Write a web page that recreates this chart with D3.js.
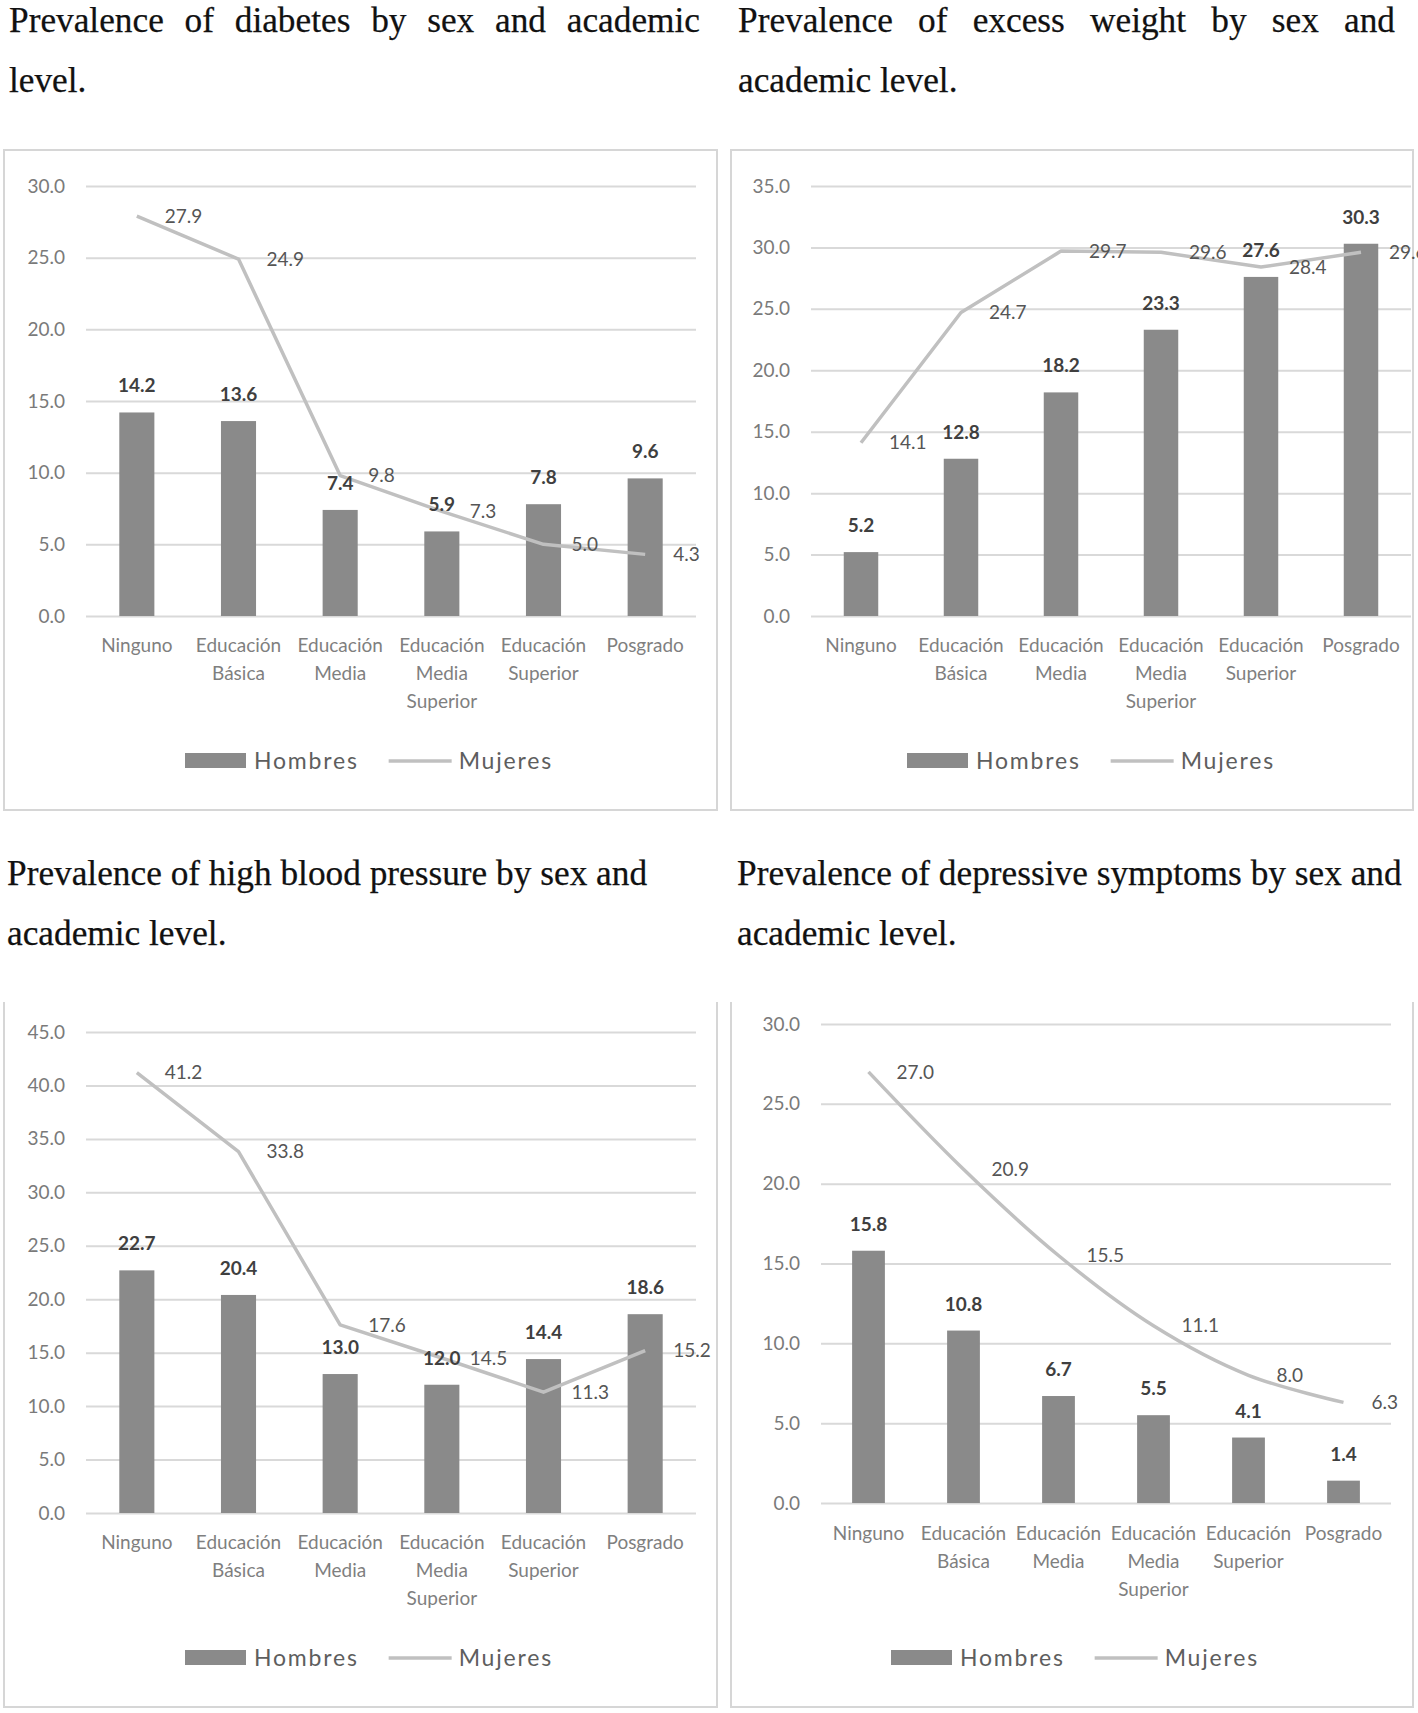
<!DOCTYPE html>
<html>
<head>
<meta charset="utf-8">
<script src="https://cdn.jsdelivr.net/npm/d3@7"></script>
<style>
  html, body { margin: 0; padding: 0; background: #fff; }
  svg { display: block; }
</style>
</head>
<body>
<svg id="chart" width="1418" height="1713"></svg>
<script>
// ---------------- DATA ----------------
const categories = ["Ninguno", "Educación Básica", "Educación Media", "Educación Media Superior", "Educación Superior", "Posgrado"];
const seriesNames = ["Hombres", "Mujeres"];

const diabetesHombres = [14.2, 13.6, 7.4, 5.9, 7.8, 9.6];
const diabetesMujeres = [27.9, 24.9, 9.8, 7.3, 5.0, 4.3];

const weightHombres = [5.2, 12.8, 18.2, 23.3, 27.6, 30.3];
const weightMujeres = [14.1, 24.7, 29.7, 29.6, 28.4, 29.6];

const pressureHombres = [22.7, 20.4, 13.0, 12.0, 14.4, 18.6];
const pressureMujeres = [41.2, 33.8, 17.6, 14.5, 11.3, 15.2];

const depressionHombres = [15.8, 10.8, 6.7, 5.5, 4.1, 1.4];
const depressionMujeres = [27.0, 20.9, 15.5, 11.1, 8.0, 6.3];

const diabetesTicks = [0, 5, 10, 15, 20, 25, 30];
const weightTicks = [0, 5, 10, 15, 20, 25, 30, 35];
const pressureTicks = [0, 5, 10, 15, 20, 25, 30, 35, 40, 45];
const depressionTicks = [0, 5, 10, 15, 20, 25, 30];

const diabetesTitle = ["Prevalence of diabetes by sex and academic", "level."];
const weightTitle = ["Prevalence of excess weight by sex and", "academic level."];
const pressureTitle = ["Prevalence of high blood pressure by sex and", "academic level."];
const depressionTitle = ["Prevalence of depressive symptoms by sex and", "academic level."];

// ---------------- LAYOUT ----------------
const panels = [
  { title: diabetesTitle, hombres: diabetesHombres, mujeres: diabetesMujeres, ticks: diabetesTicks,
    titleX: 9, titleY: 32, justifyTo: 700,
    box: { x0: 4, x1: 717, y0: 150, y1: 810, top: true },
    plot: { x0: 86, x1: 696, y0: 186, y1: 616 },
    catY: 652, legendX: 185, legendY: 761, smooth: false },
  { title: weightTitle, hombres: weightHombres, mujeres: weightMujeres, ticks: weightTicks,
    titleX: 738, titleY: 32, justifyTo: 1395,
    box: { x0: 731, x1: 1413, y0: 150, y1: 810, top: true },
    plot: { x0: 811, x1: 1411, y0: 186, y1: 616 },
    catY: 652, legendX: 907, legendY: 761, smooth: false },
  { title: pressureTitle, hombres: pressureHombres, mujeres: pressureMujeres, ticks: pressureTicks,
    titleX: 7, titleY: 885, justifyTo: null,
    box: { x0: 4, x1: 717, y0: 1002, y1: 1707, top: false },
    plot: { x0: 86, x1: 696, y0: 1032, y1: 1513 },
    catY: 1549, legendX: 185, legendY: 1658, smooth: false },
  { title: depressionTitle, hombres: depressionHombres, mujeres: depressionMujeres, ticks: depressionTicks,
    titleX: 737, titleY: 885, justifyTo: null,
    box: { x0: 731, x1: 1413, y0: 1002, y1: 1707, top: false },
    plot: { x0: 821, x1: 1391, y0: 1024, y1: 1503 },
    catY: 1540, legendX: 891, legendY: 1658, smooth: true }
];

const C = {
  grid: "#d9d9d9", border: "#d6d6d6", bar: "#8a8a8a", line: "#c0c0c0",
  tick: "#7a7a7a", cat: "#7f7f7f", legend: "#5e5e5e", barLabel: "#3f3f3f", lineLabel: "#555555", title: "#111"
};
const SANS = "Lato, 'Open Sans', sans-serif";
const SERIF = "'Liberation Serif', 'Times New Roman', serif";

const svg = d3.select("#chart");

panels.forEach(p => {
  const g = svg.append("g");

  // Title
  p.title.forEach((line, i) => {
    const t = g.append("text")
      .attr("x", p.titleX).attr("y", p.titleY + i * 60)
      .attr("font-family", SERIF).attr("font-size", 35.3)
      .attr("fill", C.title).attr("stroke", C.title).attr("stroke-width", 0.25)
      .text(line);
    if (i === 0 && p.justifyTo) {
      const len = t.node().getComputedTextLength();
      const spaces = line.split(" ").length - 1;
      const extra = (p.justifyTo - p.titleX - len) / spaces;
      t.style("word-spacing", extra + "px");
    }
  });

  // Box
  const b = p.box;
  const boxPath = b.top
    ? `M${b.x0},${b.y0}H${b.x1}V${b.y1}H${b.x0}Z`
    : `M${b.x0},${b.y0}V${b.y1}H${b.x1}V${b.y0}`;
  g.append("path").attr("d", boxPath).attr("fill", "none")
    .attr("stroke", C.border).attr("stroke-width", 2);

  // Scales
  const x = d3.scaleBand().domain(categories).range([p.plot.x0, p.plot.x1]).padding(0);
  const y = d3.scaleLinear().domain([0, d3.max(p.ticks)]).range([p.plot.y1, p.plot.y0]);
  const barW = x.bandwidth() * 0.345;
  const cx = c => x(c) + x.bandwidth() / 2;

  // Gridlines + y tick labels
  const yAxis = d3.axisLeft(y).tickValues(p.ticks).tickFormat(d3.format(".1f"))
    .tickSize(-(p.plot.x1 - p.plot.x0)).tickPadding(21);
  const ya = g.append("g").attr("transform", `translate(${p.plot.x0},0)`).call(yAxis);
  ya.select(".domain").remove();
  ya.selectAll(".tick line").attr("stroke", C.grid).attr("stroke-width", 2);
  ya.selectAll(".tick text").attr("font-family", SANS).attr("font-size", 19)
    .attr("fill", C.tick);

  // Category labels
  const xa = g.append("g");
  categories.forEach(c => {
    const words = c.split(" ");
    const t = xa.append("text").attr("x", cx(c)).attr("y", p.catY)
      .attr("text-anchor", "middle").attr("font-family", SANS).attr("font-size", 19)
      .attr("fill", C.cat);
    words.forEach((w, i) => {
      t.append("tspan").attr("x", cx(c)).attr("dy", i === 0 ? 0 : 28).text(w);
    });
  });

  // Bars
  g.append("g").selectAll("rect").data(categories).join("rect")
    .attr("x", c => cx(c) - barW / 2)
    .attr("y", (c, i) => y(p.hombres[i]))
    .attr("width", barW)
    .attr("height", (c, i) => y(0) - y(p.hombres[i]))
    .attr("fill", C.bar);

  // Line
  const lineGen = d3.line()
    .x((d, i) => cx(categories[i]))
    .y(d => y(d))
    .curve(p.smooth ? d3.curveCatmullRom.alpha(0.5) : d3.curveLinear);
  g.append("path").datum(p.mujeres).attr("d", lineGen)
    .attr("fill", "none").attr("stroke", C.line).attr("stroke-width", 3.5)
    .attr("stroke-linejoin", "round");

  // Bar labels
  g.append("g").selectAll("text").data(categories).join("text")
    .attr("x", c => cx(c))
    .attr("y", (c, i) => y(p.hombres[i]) - 20)
    .attr("text-anchor", "middle").attr("font-family", SANS).attr("font-size", 19)
    .attr("font-weight", "bold").attr("fill", C.barLabel)
    .text((c, i) => d3.format(".1f")(p.hombres[i]));

  // Line labels (right of point)
  g.append("g").selectAll("text").data(categories).join("text")
    .attr("x", c => cx(c) + 28)
    .attr("y", (c, i) => y(p.mujeres[i]))
    .attr("dy", "0.35em")
    .attr("font-family", SANS).attr("font-size", 19)
    .attr("fill", C.lineLabel)
    .text((c, i) => d3.format(".1f")(p.mujeres[i]));

  // Legend
  const lg = g.append("g").attr("transform", `translate(${p.legendX},${p.legendY})`);
  lg.append("rect").attr("x", 0).attr("y", -8).attr("width", 61).attr("height", 15).attr("fill", C.bar);
  const t1 = lg.append("text").attr("x", 69).attr("y", 8)
    .attr("font-family", SANS).attr("font-size", 23).attr("letter-spacing", "1.8px")
    .attr("fill", C.legend).text(seriesNames[0]);
  const l1 = 69 + t1.node().getComputedTextLength() + 30;
  lg.append("line").attr("x1", l1).attr("x2", l1 + 63).attr("y1", 0).attr("y2", 0)
    .attr("stroke", C.line).attr("stroke-width", 3.5);
  lg.append("text").attr("x", l1 + 70).attr("y", 8)
    .attr("font-family", SANS).attr("font-size", 23).attr("letter-spacing", "1.8px")
    .attr("fill", C.legend).text(seriesNames[1]);
});
</script>
</body>
</html>
